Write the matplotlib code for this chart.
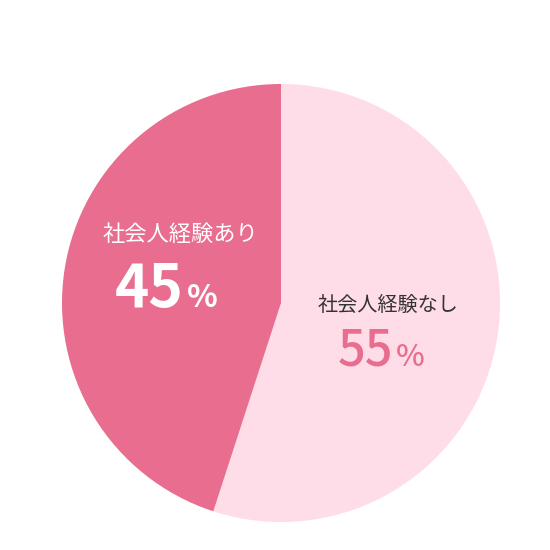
import matplotlib
matplotlib.use("Agg")
import matplotlib.pyplot as plt

labels = ["社会人経験なし", "社会人経験あり"]
values = [55, 45]
colors = ["#FEDCE8", "#E86D8E"]

plt.rcParams['font.family'] = ['Noto Sans CJK JP', 'DejaVu Sans']

fig = plt.figure(figsize=(5.5, 5.5), dpi=100)
ax = fig.add_axes([0, 0, 1, 1])

cx, cy, r = 281, 550 - 303, 219
ax.pie(values, colors=colors, startangle=90, counterclock=False,
       center=(cx, cy), radius=r, frame=True,
       wedgeprops=dict(linewidth=0))
ax.set_xlim(0, 550)
ax.set_ylim(0, 550)
ax.set_aspect('equal')
ax.axis('off')

# labels
ax.text(180, 550 - 234, labels[1], ha='center', va='center', fontsize=16, color='white')
ax.text(388, 550 - 305, labels[0], ha='center', va='center', fontsize=14.5, color='#333333')

def pct(x, y, v, color, size, weight, psize):
    ax.text(x, y, f"{v}", ha='right', va='baseline', fontsize=size, fontweight=weight, color=color)
    ax.text(x + 3, y, "%", ha='left', va='baseline', fontsize=psize, fontweight=weight, color=color)

pct(184, 550 - 307, values[1], 'white', 42, 'bold', 23)
pct(393, 550 - 366, values[0], '#E86D8E', 35, 'medium', 22)

fig.savefig("out.png", dpi=100)
